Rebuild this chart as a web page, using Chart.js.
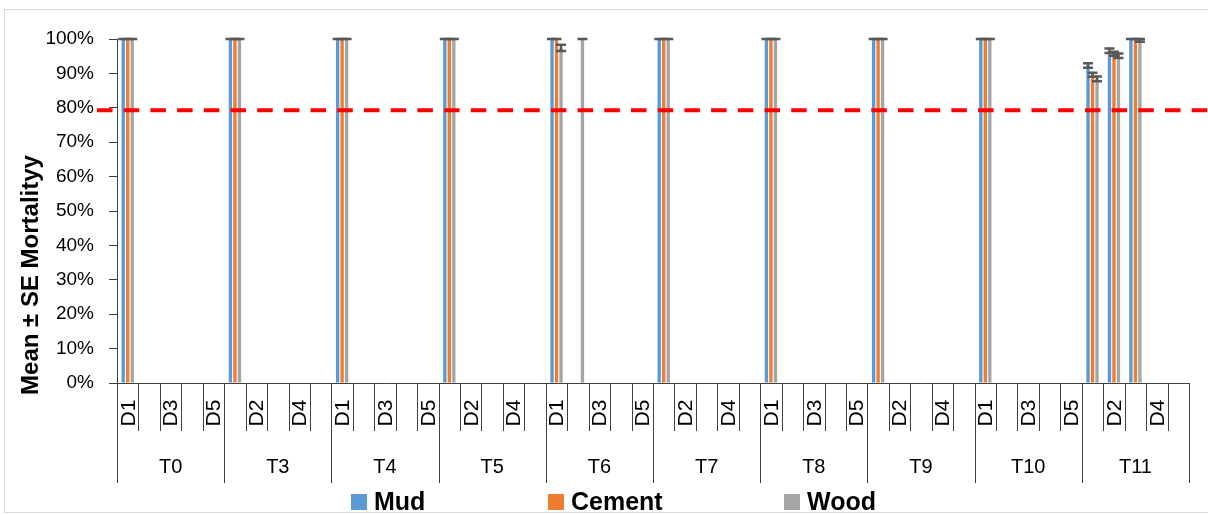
<!DOCTYPE html>
<html>
<head>
<meta charset="utf-8">
<script src="https://cdn.jsdelivr.net/npm/chart.js@4.4.0/dist/chart.umd.min.js"></script>
<style>
  html, body { margin: 0; padding: 0; background: #fff; }
  #wrap { position: relative; width: 1208px; height: 515px; }
  #frame { position: absolute; left: 4px; top: 9px; width: 1220px; height: 502px; border: 1px solid #d9d9d9; pointer-events: none; }
</style>
</head>
<body>
<div id="wrap">
  <canvas id="mortChart" width="1208" height="515"></canvas>
  <div id="frame"></div>
</div>
<script>
// Chart data
const groups = ['T0', 'T3', 'T4', 'T5', 'T6', 'T7', 'T8', 'T9', 'T10', 'T11'];
const doses = ['D1', 'D2', 'D3', 'D4', 'D5'];
const yTicks = [0, 10, 20, 30, 40, 50, 60, 70, 80, 90, 100];
const threshold = 79.3;

// one value per group/dose, in order T0 D1..D5, T3 D1..D5, ...
const mud = [
    100, 0, 0, 0, 0,   100, 0, 0, 0, 0,   100, 0, 0, 0, 0,   100, 0, 0, 0, 0,
    100, 0, 0, 0, 0,   100, 0, 0, 0, 0,   100, 0, 0, 0, 0,   100, 0, 0, 0, 0,
    100, 0, 0, 0, 0,   92.3, 96.6, 100, 0, 0
];
const cement = [
    100, 0, 0, 0, 0,   100, 0, 0, 0, 0,   100, 0, 0, 0, 0,   100, 0, 0, 0, 0,
    100, 0, 0, 0, 0,   100, 0, 0, 0, 0,   100, 0, 0, 0, 0,   100, 0, 0, 0, 0,
    100, 0, 0, 0, 0,   89.6, 95.7, 100, 0, 0
];
const wood = [
    100, 0, 0, 0, 0,   100, 0, 0, 0, 0,   100, 0, 0, 0, 0,   100, 0, 0, 0, 0,
    97.4, 100, 0, 0, 0, 100, 0, 0, 0, 0,  100, 0, 0, 0, 0,   100, 0, 0, 0, 0,
    100, 0, 0, 0, 0,   88.4, 95.1, 99.6, 0, 0
];
const mudSE = [
    0, 0, 0, 0, 0,  0, 0, 0, 0, 0,  0, 0, 0, 0, 0,  0, 0, 0, 0, 0,  0, 0, 0, 0, 0,
    0, 0, 0, 0, 0,  0, 0, 0, 0, 0,  0, 0, 0, 0, 0,  0, 0, 0, 0, 0,  0.65, 0.65, 0, 0, 0
];
const cementSE = [
    0, 0, 0, 0, 0,  0, 0, 0, 0, 0,  0, 0, 0, 0, 0,  0, 0, 0, 0, 0,  0, 0, 0, 0, 0,
    0, 0, 0, 0, 0,  0, 0, 0, 0, 0,  0, 0, 0, 0, 0,  0, 0, 0, 0, 0,  0.6, 0.6, 0, 0, 0
];
const woodSE = [
    0, 0, 0, 0, 0,  0, 0, 0, 0, 0,  0, 0, 0, 0, 0,  0, 0, 0, 0, 0,  0.9, 0, 0, 0, 0,
    0, 0, 0, 0, 0,  0, 0, 0, 0, 0,  0, 0, 0, 0, 0,  0, 0, 0, 0, 0,  0.7, 0.65, 0.4, 0, 0
];

const labels = [];
groups.forEach(g => doses.forEach(d => labels.push(g + ' ' + d)));

const FONT = '"Liberation Sans", Arial, sans-serif';
const AXIS = '#404040';

// error bars, threshold line, two-level x axis, y title and legend
const extras = {
    id: 'extras',
    afterDatasetsDraw(chart) {
        const c = chart.ctx;
        const y = chart.scales.y;
        const area = chart.chartArea;

        // SE error bars
        c.save();
        c.strokeStyle = '#595959';
        c.lineWidth = 2.5;
        chart.data.datasets.forEach((ds, i) => {
            const meta = chart.getDatasetMeta(i);
            ds.data.forEach((v, j) => {
                if (!v) return;
                const se = ds.se[j];
                const x = meta.data[j].x;
                const top = y.getPixelForValue(v + se);
                const bot = y.getPixelForValue(v - se);
                c.beginPath();
                c.moveTo(x, top); c.lineTo(x, bot);
                c.moveTo(x - 5, top); c.lineTo(x + 5, top);
                c.moveTo(x - 5, bot); c.lineTo(x + 5, bot);
                c.stroke();
            });
        });
        c.restore();

        // red dashed threshold
        c.save();
        c.strokeStyle = '#ff0000';
        c.lineWidth = 4;
        c.setLineDash([15.5, 11.2]);
        const ty = y.getPixelForValue(threshold);
        c.beginPath();
        c.moveTo(area.left - 20, ty);
        c.lineTo(chart.width, ty);
        c.stroke();
        c.restore();
    },
    afterDraw(chart) {
        const c = chart.ctx;
        const x = chart.scales.x;
        const area = chart.chartArea;
        const half = (x.getPixelForValue(1) - x.getPixelForValue(0)) / 2;

        c.save();
        c.strokeStyle = AXIS;
        c.lineWidth = 1;
        c.fillStyle = '#000';
        // dose dividers and labels
        for (let i = 0; i <= labels.length; i++) {
            const px = Math.round(x.getPixelForValue(i) - half) + 0.5;
            const isGroup = i % doses.length === 0;
            c.beginPath();
            c.moveTo(px, area.bottom);
            c.lineTo(px, area.bottom + (isGroup ? 100 : 48));
            c.stroke();
        }
        c.font = '21px ' + FONT;
        c.textAlign = 'center';
        c.textBaseline = 'middle';
        labels.forEach((lab, i) => {
            if (i % 2 !== 0) return;
            const px = x.getPixelForValue(i);
            c.save();
            c.translate(px + 1, area.bottom + 30);
            c.rotate(-Math.PI / 2);
            c.fillText(doses[i % doses.length], 0, 0);
            c.restore();
        });
        // group labels
        c.font = '20px ' + FONT;
        groups.forEach((g, gi) => {
            const a = x.getPixelForValue(gi * doses.length) - half;
            const b = x.getPixelForValue(gi * doses.length + doses.length - 1) + half;
            c.fillText(g, (a + b) / 2, area.bottom + 84);
        });

        // y axis title
        c.save();
        c.font = 'bold 24px ' + FONT;
        c.translate(31, 275);
        c.rotate(-Math.PI / 2);
        c.fillText('Mean \u00b1 SE Mortalityy', 0, 0);
        c.restore();

        // legend
        const items = chart.data.datasets.map(ds => ({ text: ds.label, color: ds.backgroundColor }));
        const lx = [351, 548, 784];
        c.font = 'bold 25px ' + FONT;
        c.textAlign = 'left';
        items.forEach((it, k) => {
            c.fillStyle = it.color;
            c.fillRect(lx[k], 494, 16, 16);
            c.fillStyle = '#000';
            c.fillText(it.text, lx[k] + 23, 503);
        });
        c.restore();
    }
};

const ctx = document.getElementById('mortChart').getContext('2d');
const chart = new Chart(ctx, {
    type: 'bar',
    data: {
        labels: labels,
        datasets: [
            { label: 'Mud', data: mud, se: mudSE, backgroundColor: '#5B9BD5' },
            { label: 'Cement', data: cement, se: cementSE, backgroundColor: '#ED7D31' },
            { label: 'Wood', data: wood, se: woodSE, backgroundColor: '#A5A5A5' }
        ]
    },
    options: {
        responsive: false,
        animation: false,
        layout: { padding: { left: 0, right: 19, top: 39, bottom: 32 } },
        datasets: { bar: { categoryPercentage: 0.63, barPercentage: 0.75, borderWidth: 0 } },
        scales: {
            x: {
                ticks: { display: false },
                grid: { display: false },
                border: { color: AXIS },
                afterFit: s => { s.height = 100; }
            },
            y: {
                min: 0,
                max: 100,
                afterBuildTicks: s => { s.ticks = yTicks.map(v => ({ value: v })); },
                ticks: {
                    padding: 15,
                    color: '#000',
                    font: { family: FONT, size: 19 },
                    callback: v => v + '%'
                },
                grid: { drawOnChartArea: false, tickLength: 8, color: AXIS },
                border: { color: AXIS },
                afterFit: s => { s.width = 117; }
            }
        },
        plugins: {
            legend: { display: false },
            tooltip: { enabled: false }
        }
    },
    plugins: [extras]
});
</script>
</body>
</html>
